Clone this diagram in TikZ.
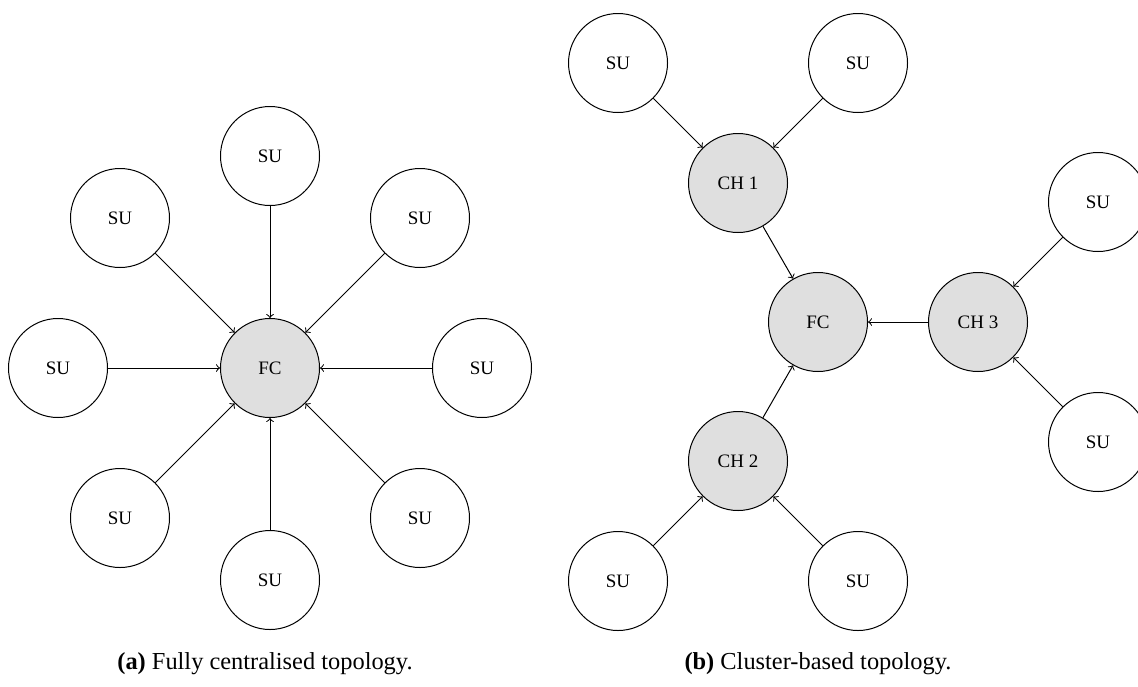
\documentclass[tikz,border=0pt]{standalone}
\usepackage{fontspec}
\setmainfont{Liberation Serif}
\begin{document}
\begin{tikzpicture}[x=0.5pt,y=-0.5pt,
  unit/.style={circle,draw,line width=0.5pt,minimum size=49.5pt,inner sep=0pt,
               font=\fontsize{9.5}{11}\selectfont},
  hub/.style={unit,fill=gray!25},
  link/.style={->,line width=0.5pt},
  caption/.style={font=\fontsize{12.2}{14}\selectfont,anchor=base}]
\useasboundingbox (0,0) rectangle (1138,686);

% (a) fully centralised: eight SUs around the fusion centre
\node[hub]  (fca) at (270,368) {FC};
\node[unit] (a1) at (482,368) {SU};
\node[unit] (a2) at (420,218) {SU};
\node[unit] (a3) at (270,156) {SU};
\node[unit] (a4) at (120,218) {SU};
\node[unit] (a5) at (58,368)  {SU};
\node[unit] (a6) at (120,518) {SU};
\node[unit] (a7) at (270,580) {SU};
\node[unit] (a8) at (420,518) {SU};
\foreach \i in {1,...,8} \draw[link] (a\i) -- (fca);

% (b) cluster-based: three cluster heads, two SUs each
\node[hub]  (fcb) at (818,322) {FC};
\node[hub]  (ch1) at (738,183) {CH 1};
\node[hub]  (ch2) at (738,461) {CH 2};
\node[hub]  (ch3) at (978,322) {CH 3};
\node[unit] (b1) at (618,63)   {SU};
\node[unit] (b2) at (858,63)   {SU};
\node[unit] (b3) at (1098,202) {SU};
\node[unit] (b4) at (1098,442) {SU};
\node[unit] (b5) at (618,581)  {SU};
\node[unit] (b6) at (858,581)  {SU};
\draw[link] (b1) -- (ch1);
\draw[link] (b2) -- (ch1);
\draw[link] (b3) -- (ch3);
\draw[link] (b4) -- (ch3);
\draw[link] (b5) -- (ch2);
\draw[link] (b6) -- (ch2);
\draw[link] (ch1) -- (fcb);
\draw[link] (ch2) -- (fcb);
\draw[link] (ch3) -- (fcb);

% sub-captions
\node[caption] (capa) at (265,669) {\textbf{(a)} Fully centralised topology.};
\node[caption] (capb) at (818,669) {\textbf{(b)} Cluster-based topology.};
\end{tikzpicture}
\end{document}
